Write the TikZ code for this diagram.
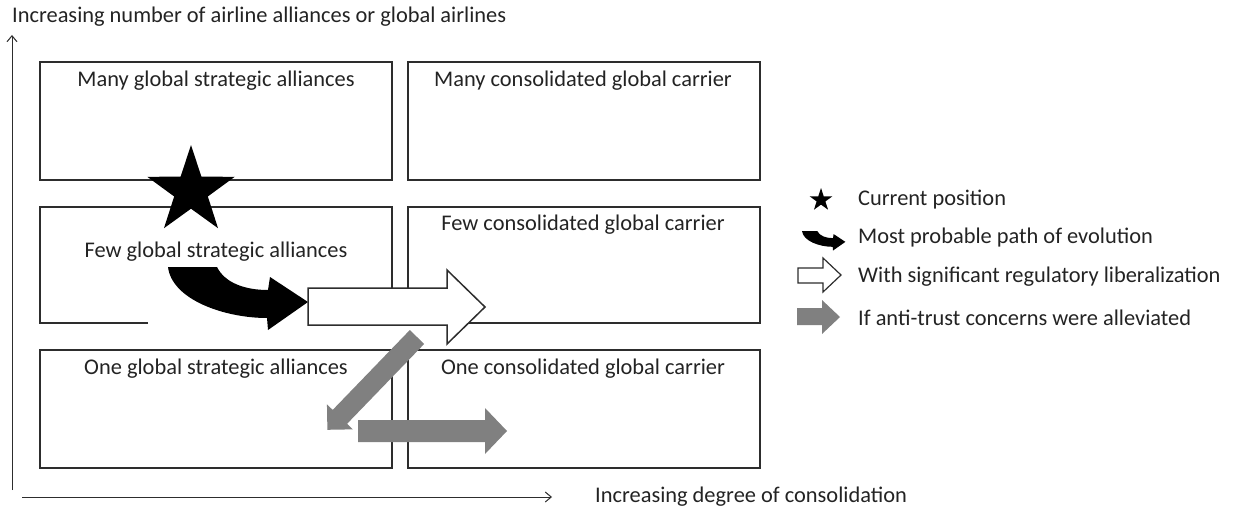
\documentclass[tikz,border=0pt]{standalone}
\usepackage{fontspec}
\setmainfont{Carlito}
\usetikzlibrary{shapes.geometric, arrows.meta}

\definecolor{boxline}{RGB}{45,45,45}
\definecolor{labeltext}{RGB}{35,35,35}
\definecolor{trustgray}{RGB}{128,128,128}

\tikzset{
    quadrant/.style={draw=boxline, line width=1.5pt},
    quadlabel/.style={inner sep=0pt, text=labeltext},
    keylabel/.style={inner sep=0pt, anchor=west, text=labeltext},
    axis/.style={draw=boxline, line width=1pt, -{Straight Barb[length=6pt, width=10pt]}},
    evolution/.pic={
        \fill[black] (0,0) -- (49,0) .. controls (57,16) and (77,23) .. (100,23)
            -- (102,10) -- (140,35) -- (100,63) -- (99,51)
            .. controls (57,51) and (4,33) .. (0,0) -- cycle;
    }
}

\begin{document}
\begin{tikzpicture}[x=1pt, y=-1pt, font=\fontsize{22.4}{26}\selectfont]
    \useasboundingbox (0,0) rectangle (1238,511);

    % quadrants
    \draw[quadrant] (40,62) rectangle (392,180);
    \draw[quadrant] (408,62) rectangle (760,180);
    \draw[quadrant] (148,323) -- (40,323) -- (40,207) -- (392,207) -- (392,323) -- (308,323);
    \draw[quadrant] (408,207) rectangle (760,323);
    \draw[quadrant] (40,350) rectangle (392,468);
    \draw[quadrant] (408,350) rectangle (760,468);

    \node[quadlabel] (many-sa) at (216,81) {Many global strategic alliances};
    \node[quadlabel] (many-cc) at (583,81) {Many consolidated global carrier};
    \node[quadlabel] (few-sa) at (216,252) {Few global strategic alliances};
    \node[quadlabel] (few-cc) at (583,225) {Few consolidated global carrier};
    \node[quadlabel] (one-sa) at (216,369) {One global strategic alliances};
    \node[quadlabel] (one-cc) at (583,369) {One consolidated global carrier};

    % axes
    \coordinate (y-start) at (12,490);
    \coordinate (y-end) at (12,35);
    \coordinate (x-start) at (22,497);
    \coordinate (x-end) at (552,497);
    \draw[axis] (y-start) -- (y-end);
    \draw[axis] (x-start) -- (x-end);
    \node[keylabel] (y-title) at (12,17) {Increasing number of airline alliances or global airlines};
    \node[keylabel] (x-title) at (595,497) {Increasing degree of consolidation};

    % current position and paths
    \node[star, star points=5, star point ratio=2.6, fill=black, inner sep=0pt,
        minimum size=92pt] (current) at (191,191) {};
    \pic at (168,267) {evolution};
    \filldraw[draw=boxline, fill=white, line width=1.5pt]
        (308,288) -- (447,288) -- (447,270) -- (485,307) -- (447,344)
        -- (447,325) -- (308,325) -- cycle;
    \begin{scope}[shift={(417,337)}, rotate=226]
        \fill[trustgray] (0,-10) -- (111,-10) -- (111,-18) -- (129,0)
            -- (111,18) -- (111,10) -- (0,10) -- cycle;
    \end{scope}
    \fill[trustgray] (358,420) -- (485,420) -- (485,408) -- (507,431)
        -- (485,454) -- (485,442) -- (358,442) -- cycle;

    % key
    \node[star, star points=5, star point ratio=2.6, fill=black, inner sep=0pt,
        minimum size=24pt] (key-star) at (821,200) {};
    \pic[scale=0.31] at (802,231) {evolution};
    \filldraw[draw=boxline, fill=white, line width=1.2pt]
        (798,268) -- (823,268) -- (823,258) -- (841,275) -- (823,292)
        -- (823,283) -- (798,283) -- cycle;
    \fill[trustgray] (797,308) -- (822,308) -- (822,300) -- (840,317)
        -- (822,334) -- (822,325) -- (797,325) -- cycle;
    \node[keylabel] (key-current) at (858,200) {Current position};
    \node[keylabel] (key-path) at (858,238) {Most probable path of evolution};
    \node[keylabel] (key-liberal) at (858,277) {With significant regulatory liberalization};
    \node[keylabel] (key-trust) at (858,318) {If anti-trust concerns were alleviated};
\end{tikzpicture}
\end{document}
